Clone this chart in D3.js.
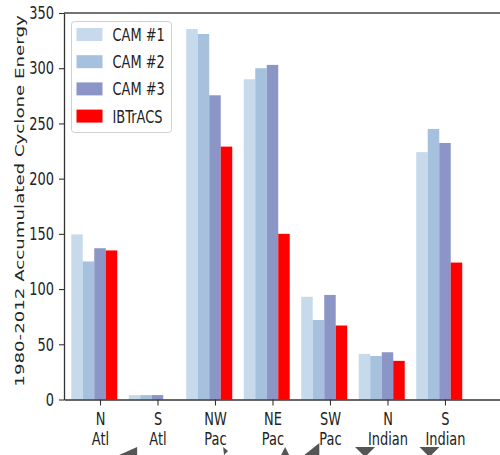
<!DOCTYPE html>
<html>
<head>
<meta charset="utf-8">
<script src="https://cdn.jsdelivr.net/npm/d3@7"></script>
<style>
  body { margin: 0; background: #fff; }
  text { font-family: "DejaVu Sans", sans-serif; fill: #222; }
</style>
</head>
<body>
<div id="chart"></div>
<script>
// basins and values
var regions = [["N", "Atl"], ["S", "Atl"], ["NW", "Pac"], ["NE", "Pac"], ["SW", "Pac"], ["N", "Indian"], ["S", "Indian"]];
var seriesNames = ["CAM #1", "CAM #2", "CAM #3", "IBTrACS"];
var cam1 = [149.5, 4, 335.5, 290, 93, 41.3, 224];
var cam2 = [125, 4, 331, 300, 72, 39.4, 245];
var cam3 = [137, 4, 275.5, 303, 94.7, 42.8, 232.3];
var ibtracs = [135, 0, 229, 150, 67, 35, 124];
var yTicks = [0, 50, 100, 150, 200, 250, 300, 350];
var colors = ["#c6daec", "#a5c1de", "#8c96c6", "#ff0000"];

var series = [cam1, cam2, cam3, ibtracs];

var width = 500, height = 455;
var sx = 0.72; // the picture is squeezed sideways, so is the text

var svg = d3.select("#chart").append("svg")
    .attr("width", width)
    .attr("height", height);

svg.append("rect").attr("width", width).attr("height", height).attr("fill", "#fff");

// x in "group units": ticks sit on the 3rd bar of each group
var x = d3.scaleLinear().domain([-0.626, 6.957]).range([64, 500]);
var y = d3.scaleLinear().domain([0, 350]).range([399.5, 13]);
var bw = 0.2;

// bars
series.forEach(function(vals, j) {
    svg.append("g")
        .selectAll("rect")
        .data(vals)
        .enter().append("rect")
        .attr("x", function(d, i) { return x(i + (j - 2) * bw - bw / 2); })
        .attr("width", x(bw) - x(0))
        .attr("y", function(d) { return y(d); })
        .attr("height", function(d) { return y(0) - y(d); })
        .attr("fill", colors[j]);
});

// top spine
svg.append("line")
    .attr("x1", 64).attr("x2", 500)
    .attr("y1", y(350)).attr("y2", y(350))
    .attr("stroke", "#444").attr("stroke-width", 1.6);

// y axis
var yAxis = svg.append("g")
    .attr("transform", "translate(64,0)")
    .call(d3.axisLeft(y).tickValues(yTicks).tickSize(5).tickSizeOuter(0).tickPadding(9));
yAxis.select(".domain").attr("stroke", "#333").attr("stroke-width", 1.3);
yAxis.selectAll(".tick line").attr("stroke", "#333").attr("stroke-width", 1.1);
yAxis.selectAll(".tick text")
    .attr("font-size", 18)
    .attr("font-family", "DejaVu Sans, sans-serif")
    .attr("fill", "#222")
    .attr("x", -10 / sx)
    .attr("transform", "scale(" + sx + ",1)");

// x axis
var xAxis = svg.append("g")
    .attr("transform", "translate(0," + y(0) + ")")
    .call(d3.axisBottom(x).tickValues(d3.range(regions.length)).tickFormat("").tickSize(6).tickSizeOuter(0));
xAxis.select(".domain").attr("stroke", "#333").attr("stroke-width", 1.3);
xAxis.selectAll(".tick line").attr("stroke", "#333").attr("stroke-width", 1.1);
xAxis.selectAll(".tick").each(function(d) {
    var t = d3.select(this).append("text")
        .attr("font-size", 18)
        .attr("text-anchor", "middle")
        .attr("transform", "scale(" + sx + ",1)");
    t.append("tspan").attr("x", 0).attr("y", 25.5).text(regions[d][0]);
    t.append("tspan").attr("x", 0).attr("y", 45.5).text(regions[d][1]);
});

// y title
svg.append("text")
    .attr("transform", "translate(24," + 201 + ") scale(" + sx + ",1) rotate(-90)")
    .attr("text-anchor", "middle")
    .attr("font-size", 18.2)
    .text("1980-2012 Accumulated Cyclone Energy");

// legend
var legend = svg.append("g").attr("transform", "translate(71.5,21.5)");
legend.append("rect")
    .attr("width", 100).attr("height", 111)
    .attr("rx", 3)
    .attr("fill", "#fff").attr("fill-opacity", 0.85)
    .attr("stroke", "#d0d0d0");
var item = legend.selectAll("g.item")
    .data(seriesNames)
    .enter().append("g")
    .attr("class", "item")
    .attr("transform", function(d, i) { return "translate(0," + (13 + i * 27.2) + ")"; });
item.append("rect")
    .attr("x", 5).attr("y", -6.5)
    .attr("width", 26).attr("height", 13)
    .attr("fill", function(d, i) { return colors[i]; });
item.append("text")
    .attr("transform", "translate(41,0) scale(" + sx + ",1)")
    .attr("dy", "0.36em")
    .attr("font-size", 18)
    .text(function(d) { return d; });

// grey arrow heads cut off at the bottom of the picture, placed from the tick positions
var arrowHeads = [
    { at: 0.35, pts: [[-1, 8], [17, 0], [17, 8]] },
    { at: 2.14, pts: [[0, 0], [5, 4], [1, 8]] },
    { at: 3.22, pts: [[0, 0], [-4, 8], [4, 8]] },
    { at: 3.78, pts: [[-13, 8], [2, -4], [2, 12]] },
    { at: 4.61, pts: [[-10, 0], [10, 0], [0, 10]] },
    { at: 5.73, pts: [[-10, 0], [10, 0], [0, 10]] }
];
svg.append("g").selectAll("path")
    .data(arrowHeads)
    .enter().append("path")
    .attr("d", function(a) {
        var ox = x(a.at), oy = 447;
        return "M" + a.pts.map(function(p) { return (ox + p[0]) + "," + (oy + p[1]); }).join("L") + "Z";
    })
    .attr("fill", "#555");
</script>
</body>
</html>
